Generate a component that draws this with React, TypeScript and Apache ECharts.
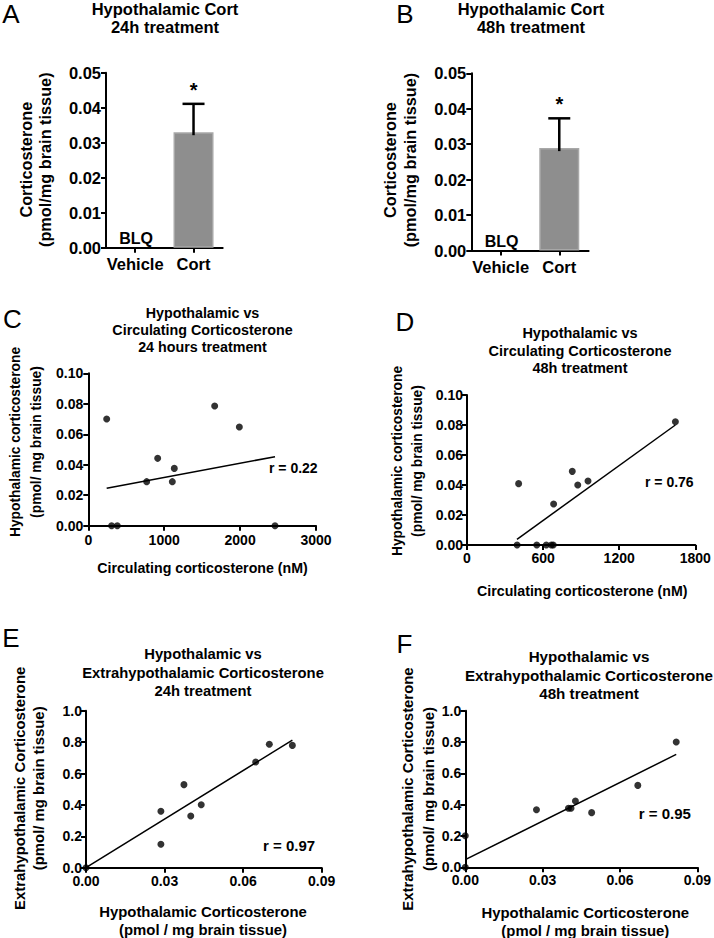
import React, { useEffect, useRef } from "react";
import * as echarts from "echarts";

const FONT = "'Liberation Sans', Arial, Helvetica, sans-serif";

// ---------- Panel A / B : bar charts ----------
const barCategories = ["Vehicle", "Cort"];
const barValuesA = [0, 0.033];
const errTopA = [0, 0.0411];
const barValuesB = [0, 0.0289];
const errTopB = [0, 0.0373];
const barNotes = ["BLQ", ""];
const sigMarks = ["", "*"];
const barYRange = [0, 0.05, 0.01];

// ---------- Panel C : 24h hypothalamic vs circulating ----------
const scatterC = [
  [242, 0.07], [307, 0], [382, 0], [769, 0.0289], [914, 0.0442],
  [1107, 0.0289], [1133, 0.0376], [1665, 0.0786], [1990, 0.0648], [2460, 0],
];
const fitC = [[242, 0.0245], [2460, 0.0453]];
const rC = "r = 0.22";
const xRangeC = [0, 3000, 1000];
const yRangeCD = [0, 0.1, 0.02];

// ---------- Panel D : 48h hypothalamic vs circulating ----------
const scatterD = [
  [395, 0], [407, 0.0409], [550, 0], [625, 0], [665, 0], [680, 0],
  [683, 0.0273], [830, 0.0491], [873, 0.04], [954, 0.0427], [1643, 0.0822],
];
const fitD = [[394, 0.0038], [1643, 0.08]];
const rD = "r = 0.76";
const xRangeD = [0, 1800, 600];

// ---------- Panel E : 24h hypothalamic vs extrahypothalamic ----------
const scatterE = [
  [0, 0], [0.0286, 0.359], [0.0286, 0.149], [0.0374, 0.529], [0.04, 0.329],
  [0.044, 0.401], [0.0648, 0.673], [0.07, 0.786], [0.0788, 0.779],
];
const fitE = [[0, 0], [0.0788, 0.813]];
const rE = "r = 0.97";

// ---------- Panel F : 48h hypothalamic vs extrahypothalamic ----------
const scatterF = [
  [0, 0], [0, 0.202], [0.0276, 0.368], [0.04, 0.377], [0.041, 0.377],
  [0.0427, 0.423], [0.049, 0.349], [0.0669, 0.523], [0.0818, 0.8],
];
const fitF = [[0, 0.049], [0.0818, 0.721]];
const rF = "r = 0.95";
const xRangeEF = [0, 0.09, 0.03];
const yRangeEF = [0, 1, 0.2];

function valueAxis(gridIndex: number, range: number[], decimals: number, fontSize: number, margin: number) {
  return {
    type: "value",
    gridIndex,
    min: range[0],
    max: range[1],
    interval: range[2],
    axisLine: { show: true, onZero: false, lineStyle: { color: "#000", width: 2 } },
    axisTick: { show: true, length: 5, lineStyle: { color: "#000", width: 2 } },
    splitLine: { show: false },
    axisLabel: {
      show: true,
      color: "#000",
      fontWeight: "bold",
      fontFamily: FONT,
      fontSize,
      margin,
      showMinLabel: true,
      showMaxLabel: true,
      formatter: (v: number) => v.toFixed(decimals),
    },
  };
}

function categoryAxis(gridIndex: number) {
  return {
    type: "category",
    gridIndex,
    data: barCategories,
    axisLine: { show: true, lineStyle: { color: "#000", width: 2 } },
    axisTick: { show: true, alignWithLabel: true, interval: 0, length: 5, lineStyle: { color: "#000", width: 2 } },
    splitLine: { show: false },
    axisLabel: { color: "#000", fontWeight: "bold", fontFamily: FONT, fontSize: 16.5, margin: 8, interval: 0 },
  };
}

function barSeries(axisIndex: number, values: number[]) {
  return {
    type: "bar",
    xAxisIndex: axisIndex,
    yAxisIndex: axisIndex,
    barWidth: 40,
    data: values.map((v) =>
      v === 0 ? { value: v, itemStyle: { borderWidth: 0 } } : v
    ),
    itemStyle: { color: "#8e8e8e", borderColor: "#a8a8a8", borderWidth: 1.5 },
  };
}

function errorSeries(axisIndex: number, values: number[], tops: number[]) {
  return {
    type: "custom",
    xAxisIndex: axisIndex,
    yAxisIndex: axisIndex,
    z: 5,
    data: values.map((v, i) => [i, v, tops[i]]),
    renderItem: (params: any, api: any) => {
      const i = params.dataIndex;
      const mean = api.value(1);
      const top = api.value(2);
      const base = api.coord([api.value(0), mean]);
      const tp = api.coord([api.value(0), top]);
      const children: any[] = [];
      if (top > mean) {
        children.push({
          type: "line",
          shape: { x1: base[0], y1: base[1] + 3, x2: tp[0], y2: tp[1] },
          style: { stroke: "#000", lineWidth: 2.5 },
        });
        children.push({
          type: "line",
          shape: { x1: tp[0] - 11, y1: tp[1], x2: tp[0] + 11, y2: tp[1] },
          style: { stroke: "#000", lineWidth: 2.5 },
        });
      }
      if (sigMarks[i]) {
        children.push({
          type: "text",
          x: tp[0],
          y: tp[1] - 14,
          style: {
            text: sigMarks[i], fill: "#000", fontSize: 20, fontWeight: "bold", fontFamily: FONT,
            align: "center", verticalAlign: "middle",
          },
        });
      }
      if (barNotes[i]) {
        children.push({
          type: "text",
          x: base[0] + 1,
          y: base[1] - 9,
          style: {
            text: barNotes[i], fill: "#000", fontSize: 16, fontWeight: "bold", fontFamily: FONT,
            align: "center", verticalAlign: "middle",
          },
        });
      }
      return { type: "group", children };
    },
  };
}

function scatterSeries(axisIndex: number, data: number[][]) {
  return {
    type: "scatter",
    xAxisIndex: axisIndex,
    yAxisIndex: axisIndex,
    data,
    symbolSize: 7,
    clip: false,
    itemStyle: { color: "#000" },
    z: 4,
  };
}

function fitSeries(axisIndex: number, data: number[][]) {
  return {
    type: "line",
    xAxisIndex: axisIndex,
    yAxisIndex: axisIndex,
    data,
    symbol: "none",
    showSymbol: false,
    silent: true,
    lineStyle: { color: "#000", width: 1.5 },
    z: 3,
  };
}

function txt(text: string, x: number, y: number, fontSize: number, opts: any = {}) {
  return {
    type: "text",
    x,
    y,
    rotation: opts.rotation || 0,
    silent: true,
    style: {
      text,
      fill: "#000",
      fontSize,
      fontWeight: opts.weight || "bold",
      fontFamily: FONT,
      align: opts.align || "center",
      verticalAlign: "middle",
      lineHeight: opts.lineHeight || fontSize * 1.2,
    },
  };
}

const R90 = Math.PI / 2;

const option: any = {
  animation: false,
  backgroundColor: "#fff",
  grid: [
    { left: 106, top: 72.7, width: 116.7, height: 175 },
    { left: 471.3, top: 73.3, width: 117.3, height: 177.3 },
    { left: 88.3, top: 373.3, width: 227.7, height: 152.4 },
    { left: 467, top: 395, width: 228.3, height: 150 },
    { left: 86, top: 710.7, width: 235.7, height: 157 },
    { left: 465.3, top: 710.7, width: 236.7, height: 156.6 },
  ],
  xAxis: [
    categoryAxis(0),
    categoryAxis(1),
    valueAxis(2, xRangeC, 0, 14, 7),
    valueAxis(3, xRangeD, 0, 14, 6),
    valueAxis(4, xRangeEF, 2, 14, 6),
    valueAxis(5, xRangeEF, 2, 14, 6),
  ],
  yAxis: [
    valueAxis(0, barYRange, 2, 16.5, 5),
    valueAxis(1, barYRange, 2, 16.5, 5),
    valueAxis(2, yRangeCD, 2, 14, 5),
    valueAxis(3, yRangeCD, 2, 14, 4),
    valueAxis(4, yRangeEF, 1, 14, 4),
    valueAxis(5, yRangeEF, 1, 14, 4),
  ],
  series: [
    barSeries(0, barValuesA),
    errorSeries(0, barValuesA, errTopA),
    barSeries(1, barValuesB),
    errorSeries(1, barValuesB, errTopB),
    fitSeries(2, fitC),
    scatterSeries(2, scatterC),
    fitSeries(3, fitD),
    scatterSeries(3, scatterD),
    fitSeries(4, fitE),
    scatterSeries(4, scatterE),
    fitSeries(5, fitF),
    scatterSeries(5, scatterF),
  ],
  graphic: [
    // panel letters
    txt("A", 11, 14, 26, { weight: "normal" }),
    txt("B", 405, 14, 26, { weight: "normal" }),
    txt("C", 12.5, 319, 26, { weight: "normal" }),
    txt("D", 405, 322, 26, { weight: "normal" }),
    txt("E", 11, 638, 26, { weight: "normal" }),
    txt("F", 404.5, 643.5, 26, { weight: "normal" }),
    // titles
    txt("Hypothalamic Cort\n24h treatment", 165, 18, 16.5, { lineHeight: 18.5 }),
    txt("Hypothalamic Cort\n48h treatment", 531, 18, 16.5, { lineHeight: 18.5 }),
    txt("Hypothalamic vs\nCirculating Corticosterone\n24 hours treatment", 202.5, 330, 14.3, { lineHeight: 16.8 }),
    txt("Hypothalamic vs\nCirculating Corticosterone\n48h treatment", 580, 350.5, 14.5, { lineHeight: 17.3 }),
    txt("Hypothalamic vs\nExtrahypothalamic Corticosterone\n24h treatment", 203, 672.5, 14.8, { lineHeight: 18.8 }),
    txt("Hypothalamic vs\nExtrahypothalamic Corticosterone\n48h treatment", 589, 675, 15.2, { lineHeight: 18.5 }),
    // y axis names
    txt("Corticosterone\n(pmol/mg brain tissue)", 35.5, 159.7, 16.3, { rotation: R90, lineHeight: 19.6 }),
    txt("Corticosterone\n(pmol/mg brain tissue)", 400, 160, 16.3, { rotation: R90, lineHeight: 20.6 }),
    txt("Hypothalamic corticosterone\n(pmol/ mg brain tissue)", 26, 442, 13.8, { rotation: R90, lineHeight: 20.5 }),
    txt("Hypothalamic corticosterone\n(pmol/ mg brain tissue)", 407.8, 461, 13.8, { rotation: R90, lineHeight: 20 }),
    txt("Extrahypothalamic Corticosterone\n(pmol/ mg brain tissue)", 29.5, 788.3, 14.9, { rotation: R90, lineHeight: 19.5 }),
    txt("Extrahypothalamic Corticosterone\n(pmol/ mg brain tissue)", 418.3, 789, 14.9, { rotation: R90, lineHeight: 21 }),
    // x axis names
    txt("Circulating corticosterone (nM)", 202.5, 568.3, 14.2),
    txt("Circulating corticosterone (nM)", 582.3, 590.7, 14.2),
    txt("Hypothalamic Corticosterone\n(pmol / mg brain tissue)", 203, 920.8, 14.9, { lineHeight: 18.3 }),
    txt("Hypothalamic Corticosterone\n(pmol / mg brain tissue)", 585.3, 921.7, 14.9, { lineHeight: 18 }),
    // r values
    txt(rC, 269, 467.8, 14, { align: "left" }),
    txt(rD, 645, 481.7, 14, { align: "left" }),
    txt(rE, 263, 845.8, 15, { align: "left" }),
    txt(rF, 638.7, 813, 15, { align: "left" }),
  ],
};

export default function App() {
  const ref = useRef<HTMLDivElement>(null);
  useEffect(() => {
    if (!ref.current) return;
    const chart = echarts.init(ref.current, null, { renderer: "svg", width: 714, height: 938 });
    chart.setOption(option);
    return () => chart.dispose();
  }, []);
  return (
    <div
      ref={ref}
      style={{ position: "absolute", left: 0, top: 0, width: 714, height: 938, background: "#fff" }}
    />
  );
}
